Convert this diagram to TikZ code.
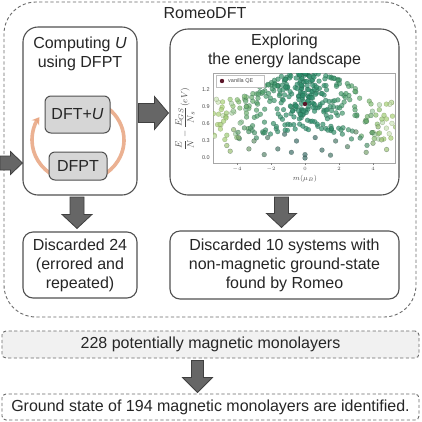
\documentclass[tikz,border=0pt]{standalone}
\usepackage{fontspec}
\setmainfont{Liberation Sans}
\usetikzlibrary{calc,arrows.meta}
\definecolor{txt}{HTML}{262626}
\definecolor{bord}{HTML}{505050}
\definecolor{arrfill}{HTML}{666666}
\definecolor{arrline}{HTML}{404040}
\definecolor{innerfill}{HTML}{D6D6D6}
\definecolor{cyc}{HTML}{E8A47F}
\definecolor{pla}{HTML}{2E8E6C}
\definecolor{plb}{HTML}{B9DA78}
\definecolor{plc}{HTML}{3E6E68}
\definecolor{lightbg}{HTML}{F1F1F1}
\definecolor{vanilla}{HTML}{5A1528}
\definecolor{dashcol}{HTML}{6A6A6A}
\tikzset{
  every node/.style={font=\fontsize{16}{19}\selectfont, text=txt},
  box/.style={draw=bord, line width=1.1pt, fill=white, rounded corners=#1, inner sep=0pt, align=center},
  box/.default=10pt,
  inbox/.style={draw=bord, line width=1pt, fill=innerfill, rounded corners=6pt, inner sep=0pt},
  outerbox/.style={draw=dashcol, line width=0.9pt, dash pattern=on 3.2pt off 2.4pt, rounded corners=32pt, inner sep=0pt},
  dbox/.style={draw=dashcol, line width=0.9pt, dash pattern=on 3.2pt off 2.4pt, rounded corners=4pt, inner sep=0pt},
  lbl/.style={align=center, inner sep=0pt},
  blockarrow/.style={fill=arrfill, draw=arrline, line width=0.8pt, line join=miter},
  cycline/.style={draw=cyc, line width=3.6pt, opacity=0.85},
  tick/.style={font=\fontsize{5.5}{6}\selectfont, text=black!70, inner sep=0pt},
  dot/.style={fill opacity=0.7, draw opacity=0.5, line width=0.3pt}
}
% vertical block arrow: start, tip, shaft half width, head half width, head length
\newcommand\downblock[5]{%
  \draw[blockarrow] let \p1=(#1), \p2=(#2) in
   (\x1-#3pt,\y1) -- (\x1-#3pt,\y2+#5pt) -- (\x1-#4pt,\y2+#5pt) -- (\x1,\y2)
   -- (\x1+#4pt,\y2+#5pt) -- (\x1+#3pt,\y2+#5pt) -- (\x1+#3pt,\y1) -- cycle;}
% horizontal block arrow: start, tip, shaft half width, head half width, head length
\newcommand\rightblock[5]{%
  \draw[blockarrow] let \p1=(#1), \p2=(#2) in
   (\x1,\y1+#3pt) -- (\x2-#5pt,\y1+#3pt) -- (\x2-#5pt,\y1+#4pt) -- (\x2,\y1)
   -- (\x2-#5pt,\y1-#4pt) -- (\x2-#5pt,\y1-#3pt) -- (\x1,\y1-#3pt) -- cycle;}
\begin{document}
\begin{tikzpicture}[x=1pt,y=-1pt]
\useasboundingbox (0,0) rectangle (422,421);
\fill[white] (0,0) rectangle (422,421);

% outer container
\node[outerbox, minimum width=412pt, minimum height=315pt] (outer) at (210,159.5) {};
\node[lbl] (romeo) at (205,13.5) {RomeoDFT};

% left box
\node[box=15pt, minimum width=114pt, minimum height=168pt] (lbox) at (80,111) {};
\node[lbl] (lboxt) at (80,54) {Computing \textit{U}\\using DFPT};

% cycle arcs
\draw[cycline] ({78+46*cos(-60)},{140+42*sin(-60)}) arc[start angle=-60, end angle=60, x radius=46, y radius=42];
\draw[cycline, -{Stealth[length=7pt,width=9pt]}] ({78+46*cos(120)},{140+42*sin(120)}) arc[start angle=120, end angle=213, x radius=46, y radius=42];

\node[inbox, minimum width=65pt, minimum height=37pt] (dftu) at (77.5,114.5) {DFT+\textit{U}};
\node[inbox, minimum width=58pt, minimum height=28pt] (dfpt) at (78,166) {DFPT};

% right box
\node[box=18pt, minimum width=229pt, minimum height=166pt] (rbox) at (284.5,112) {};
\node[lbl] (rboxt) at (284.5,50.5) {Exploring\\the energy landscape};

% plot
\draw[draw=black!35, line width=0.5pt, fill=white] (213,73) rectangle (395,163);
\begin{scope}
\clip (213,73) rectangle (395,163);
\pgfmathsetseed{33}
% edge band
\foreach \i in {1,...,75}{
  \pgfmathsetmacro\sg{rnd<0.5 ? -1 : 1}
  \pgfmathsetmacro\xx{\sg*(3.3+2.1*rnd)}
  \pgfmathsetmacro\yy{0.3+0.75*rnd}
  \pgfmathtruncatemacro\pc{min(90,40+(abs(\xx)-3.2)*30)}
  \pgfmathtruncatemacro\pw{rnd<0.35 ? 55 : 0}
  \pgfmathsetmacro\px{305+17*\xx}
  \pgfmathsetmacro\py{158-56.7*\yy}
  \filldraw[dot, fill=white!\pw!plb!\pc!pla, draw=plb!\pc!pla!60!black] (\px,\py) circle[radius=2.4pt];
}
% main cloud
\foreach \i in {1,...,300}{
  \pgfmathsetmacro\xx{(rnd+rnd-1)*4.1}
  \pgfmathsetmacro\ym{1.50-0.03*(\xx)*(\xx)}
  \pgfmathsetmacro\rr{rnd}
  \pgfmathsetmacro\yy{\ym-1.0*(\rr)^1.6}
  \pgfmathtruncatemacro\pc{min(85,abs(\xx)*abs(\xx)*4.5)}
  \pgfmathtruncatemacro\pd{max(0,min(60,(1.0-\yy)*90))}
  \pgfmathsetmacro\px{305+17*\xx}
  \pgfmathsetmacro\py{158-56.7*\yy}
  \filldraw[dot, fill=plc!\pd!plb!\pc!pla, draw=pla!60!black] (\px,\py) circle[radius=2.4pt];
}
\foreach \a/\b in {-4.6/0.22,-4.4/0.12,-3.9/0.36,-3.3/0.16,-3.0/0.30,-2.4/0.06,-2.2/0.36,-1.6/0.16,-1.2/0.42,-0.8/0.10,-0.5/0.30,0.0/0.06,0.0/0.0,0.6/0.36,1.0/0.14,1.5/0.05,1.8/0.30,2.5/0.20,3.0/0.46,3.6/0.10,4.0/0.26,4.5/0.32,4.8/0.15,-4.2/0.5,4.3/0.55}{
  \pgfmathtruncatemacro\pc{min(80,abs(\a)*abs(\a)*4)}
  \pgfmathsetmacro\px{305+17*\a}
  \pgfmathsetmacro\py{158-56.7*\b}
  \filldraw[dot, fill=plb!\pc!plc, draw=plc!60!black] (\px,\py) circle[radius=2.4pt];
}
\fill[vanilla] (305,104) circle[radius=2.2pt];
\end{scope}
% legend
\draw[draw=black!25, line width=0.4pt, fill=white] (216,75) rectangle (264,87);
\fill[vanilla] (222,81) circle[radius=2.2pt];
\node[tick, anchor=west] (leg) at (228,81) {vanilla QE};
% ticks
\foreach \v/\t in {237/$-4$,271/$-2$,305/$0$,339/$2$,373/$4$}{
  \draw[black!50, line width=0.4pt] (\v,163) -- (\v,165);
  \node[tick] at (\v,169) {\t};
}
\foreach \yv/\t in {90/1.2,107/0.9,124/0.6,141/0.3,158/0.0}{
  \node[tick, anchor=east] at (210,\yv) {\t};
}
\node[tick, font=\fontsize{7.5}{8}\selectfont] (xlab) at (305,179) {$m(\mu_{B})$};
\node[tick, rotate=90, font=\fontsize{9.5}{10}\selectfont] (ylab) at (185,119) {$\displaystyle\frac{E}{N}-\frac{E_{GS}}{N_{s}}(eV)$};

% discarded boxes
\node[box=10pt, minimum width=114pt, minimum height=66pt] (d1) at (80,265) {Discarded 24\\(errored and\\repeated)};
\node[box=10pt, minimum width=229pt, minimum height=68pt] (d2) at (284.5,265) {Discarded 10 systems with\\non-magnetic ground-state\\found by Romeo};

% bottom boxes
\node[dbox, fill=lightbg, minimum width=417pt, minimum height=27pt] (p228) at (210.5,344.5) {228 potentially magnetic monolayers};
\node[dbox, fill=white, minimum width=417pt, minimum height=26pt] (gs) at (210.5,407) {Ground state of 194 magnetic monolayers are identified.};

% arrows
\coordinate (inA) at (0,163);
\rightblock{inA}{lbox.west |- inA}{7}{11.5}{12}
\rightblock{$(lbox.east)+(1,2)$}{$(rbox.west)+(-1,2)$}{9.5}{16.5}{14}
\downblock{$(lbox.south)+(-3,1.5)$}{$(d1.north)+(0,-3)$}{7}{15}{14}
\downblock{$(rbox.south)+(-3,1.5)$}{$(d2.north)+(0,-3)$}{7}{15}{14}
\downblock{$(p228.south)+(-13,2)$}{$(gs.north)+(0,-1)$}{6}{15}{15}
\end{tikzpicture}
\end{document}
